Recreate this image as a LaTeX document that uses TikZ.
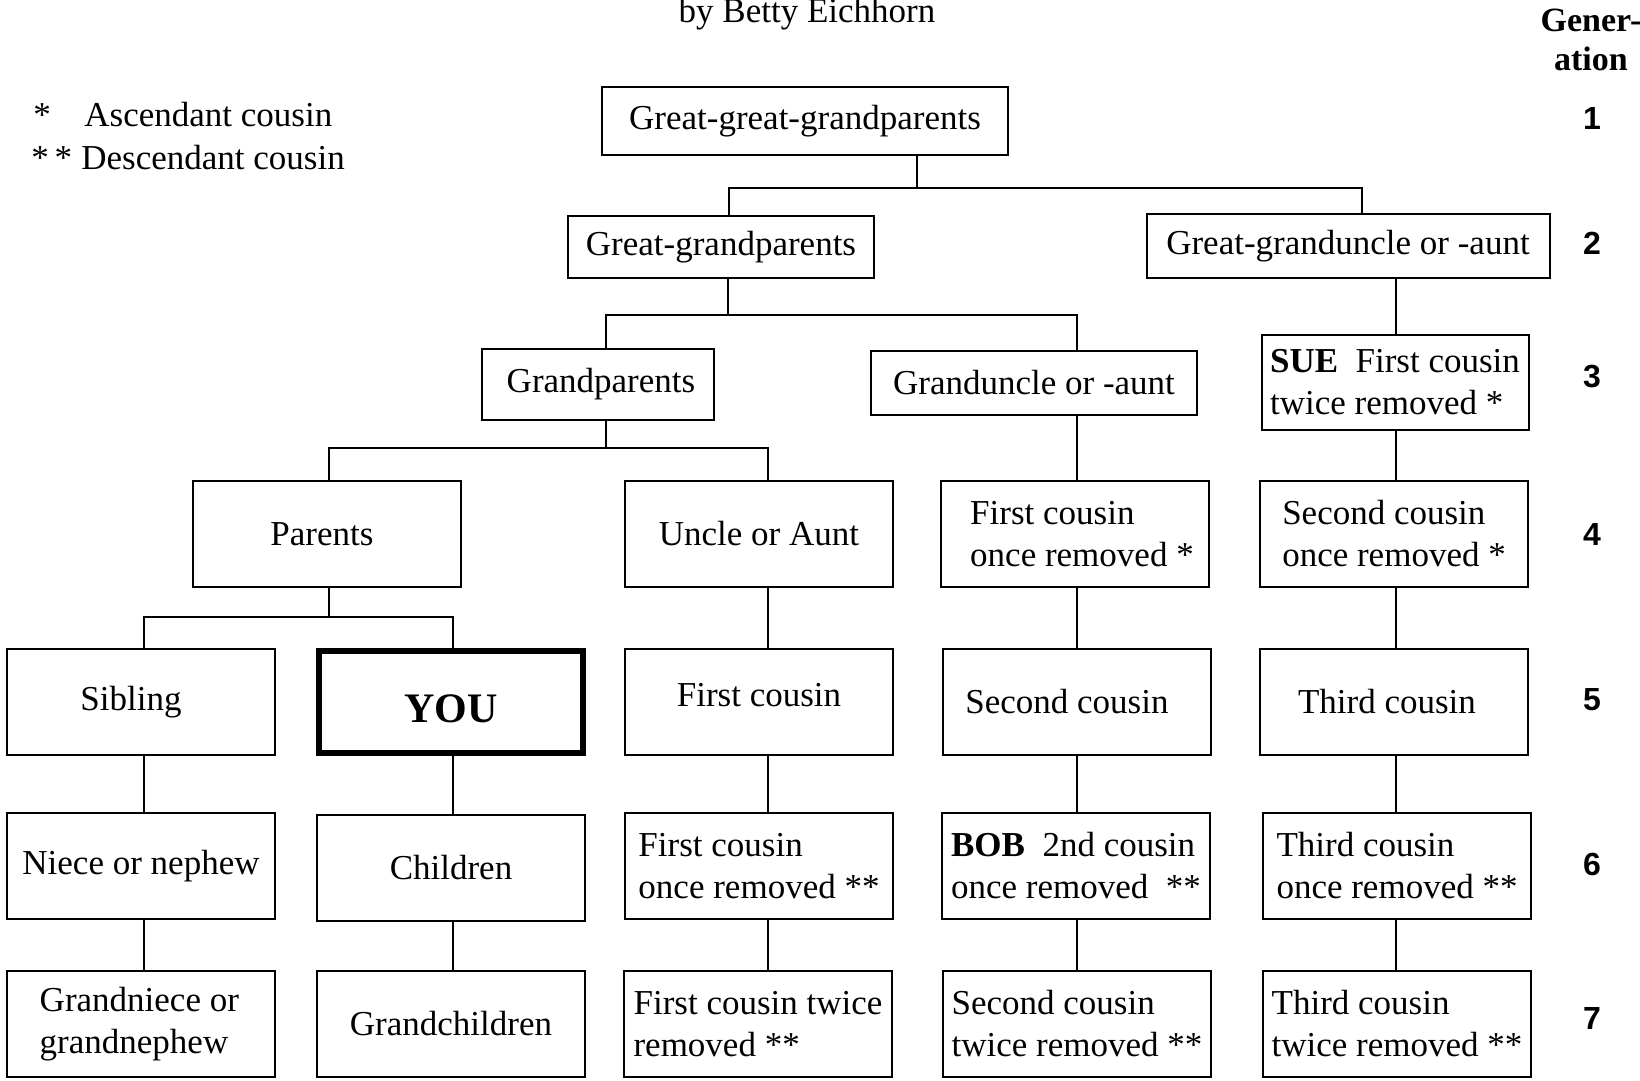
\documentclass[tikz,border=0pt]{standalone}
\usepackage{fontspec}
\setmainfont{Liberation Serif}
\newfontfamily\gensans{Liberation Sans}

\tikzset{
  every node/.style={font=\fontsize{17.5}{21}\selectfont},
  box/.style={draw, line width=1pt, align=left, inner sep=2pt},
  cell/.style={box, minimum width=134pt, minimum height=53pt},
  note/.style={anchor=west, inner sep=0pt},
  gen/.style={font=\gensans\bfseries\fontsize{16}{19}\selectfont},
  link/.style={line width=0.8pt},
}
% move the ink of a text inside its box: \nudge{x}{y}{text}
\newcommand{\nudge}[3]{\hspace*{#1}\raisebox{#2}[\height][\depth]{#3}\hspace*{-#1}}

\begin{document}
\begin{tikzpicture}[x=0.5pt,y=-0.5pt]
		\useasboundingbox (0,0) rectangle (1640,1081);
		% heading and key
		\node[anchor=base](by) at (807,23) {by Betty Eichhorn};
		\node[anchor=base,font=\fontsize{17}{21}\selectfont\bfseries](gh1) at (1591,32) {Gener-};
		\node[anchor=base,font=\fontsize{17}{21}\selectfont\bfseries](gh2) at (1591,71) {ation};
		\node[note](st1) at (33,115) {*};
		\node[note](key1) at (84,115) {Ascendant cousin};
		\node[note](st2) at (31,158) {*\,*};
		\node[note](key2) at (81,158) {Descendant cousin};
		% generation numbers
		\node[gen](g1) at (1592,118) {1};
		\node[gen](g2) at (1592,243) {2};
		\node[gen](g3) at (1592,377) {3};
		\node[gen](g4) at (1592,534) {4};
		\node[gen](g5) at (1592,700) {5};
		\node[gen](g6) at (1592,864) {6};
		\node[gen](g7) at (1592,1018) {7};
		% generations 1 to 3
		\node[box, minimum width=203pt, minimum height=34pt](ggg) at (805,121) {Great-great-grandparents};
		\node[box, minimum width=153pt, minimum height=31pt](gg) at (721,247) {Great-grandparents};
		\node[box, minimum width=201.5pt, minimum height=32pt](ggua) at (1348,246) {Great-granduncle or -aunt};
		\node[box, minimum width=116pt, minimum height=35.5pt](gp) at (598,384) {\nudge{1.5pt}{0pt}{Grandparents}};
		\node[box, minimum width=163pt, minimum height=32pt](gua) at (1034,383) {Granduncle or -aunt};
		\node[box, minimum width=133.5pt, minimum height=47.5pt](sue) at (1395,382) {\textbf{SUE}\ \ First cousin\\twice removed *};
		% generation 4
		\node[cell](parents) at (327,534) {\nudge{-2.5pt}{0pt}{Parents}};
		\node[cell](uncle) at (759,534) {Uncle or Aunt};
		\node[cell](fc1a) at (1075,534) {\hspace*{7pt}First cousin\\\hspace*{7pt}once removed *};
		\node[cell](sc1a) at (1394,534) {Second cousin\\once removed *};
		% generation 5
		\node[cell](sib) at (141,702) {\nudge{-5pt}{0pt}{Sibling}};
		\node[cell, line width=2.8pt, minimum width=132pt, minimum height=51pt, font=\fontsize{21}{24}\selectfont\bfseries](you) at (451,702) {\nudge{0pt}{-3.5pt}{YOU}};
		\node[cell](fc) at (759,702) {\nudge{0pt}{3.5pt}{First cousin}};
		\node[cell](sc) at (1077,702) {\nudge{-5pt}{0pt}{Second cousin}};
		\node[cell](tc) at (1394,702) {\nudge{-3.5pt}{0pt}{Third cousin}};
		% generation 6
		\node[cell](niece) at (141,866) {Niece or nephew};
		\node[cell](kids) at (451,868) {Children};
		\node[cell](fc1d) at (759,866) {First cousin\\once removed **};
		\node[cell](bob) at (1076,866) {\textbf{BOB}\ \ 2nd cousin\\once removed\ \ **};
		\node[cell](tc1d) at (1397,866) {Third cousin\\once removed **};
		% generation 7
		\node[cell](gniece) at (141,1024) {Grandniece or\\grandnephew\hspace*{7pt}};
		\node[cell](gkids) at (451,1024) {Grandchildren};
		\node[cell](fc2) at (758,1024) {First cousin twice\\removed **};
		\node[cell](sc2) at (1077,1024) {Second cousin\\twice removed **};
		\node[cell](tc2) at (1397,1024) {Third cousin\\twice removed **};
		% columns and bus lines
		\coordinate (c1) at (144,0);
		\coordinate (c2) at (453,0);
		\coordinate (c3) at (768,0);
		\coordinate (c4) at (1077,0);
		\coordinate (c5) at (1396,0);
		\coordinate (j1) at (917,188);
		\coordinate (j1l) at (729,188);
		\coordinate (j1r) at (1362,188);
		\coordinate (j2) at (728,315);
		\coordinate (j2l) at (606,315);
		\coordinate (j2r) at (1077,315);
		\coordinate (j3) at (606,448);
		\coordinate (j3l) at (329,448);
		\coordinate (j3r) at (768,448);
		\coordinate (j4) at (329,617);
		\coordinate (j4l) at (144,617);
		\coordinate (j4r) at (453,617);
		\draw[link] (ggg.south -| j1) -- (j1);
		\draw[link] (gg.north -| j1l) -- (j1l) -- (j1r) -- (ggua.north -| j1r);
		\draw[link] (gg.south -| j2) -- (j2);
		\draw[link] (gp.north -| j2l) -- (j2l) -- (j2r) -- (gua.north -| j2r);
		\draw[link] (gp.south -| j3) -- (j3);
		\draw[link] (parents.north -| j3l) -- (j3l) -- (j3r) -- (uncle.north -| j3r);
		\draw[link] (parents.south -| j4) -- (j4);
		\draw[link] (sib.north -| j4l) -- (j4l) -- (j4r) -- (you.north -| j4r);
		\draw[link] (ggua.south -| c5) -- (sue.north -| c5);
		\draw[link] (sue.south -| c5) -- (sc1a.north -| c5);
		\draw[link] (sc1a.south -| c5) -- (tc.north -| c5);
		\draw[link] (tc.south -| c5) -- (tc1d.north -| c5);
		\draw[link] (tc1d.south -| c5) -- (tc2.north -| c5);
		\draw[link] (gua.south -| c4) -- (fc1a.north -| c4);
		\draw[link] (fc1a.south -| c4) -- (sc.north -| c4);
		\draw[link] (sc.south -| c4) -- (bob.north -| c4);
		\draw[link] (bob.south -| c4) -- (sc2.north -| c4);
		\draw[link] (uncle.south -| c3) -- (fc.north -| c3);
		\draw[link] (fc.south -| c3) -- (fc1d.north -| c3);
		\draw[link] (fc1d.south -| c3) -- (fc2.north -| c3);
		\draw[link] (you.south -| c2) -- (kids.north -| c2);
		\draw[link] (kids.south -| c2) -- (gkids.north -| c2);
		\draw[link] (sib.south -| c1) -- (niece.north -| c1);
		\draw[link] (niece.south -| c1) -- (gniece.north -| c1);
	\end{tikzpicture}
\end{document}
